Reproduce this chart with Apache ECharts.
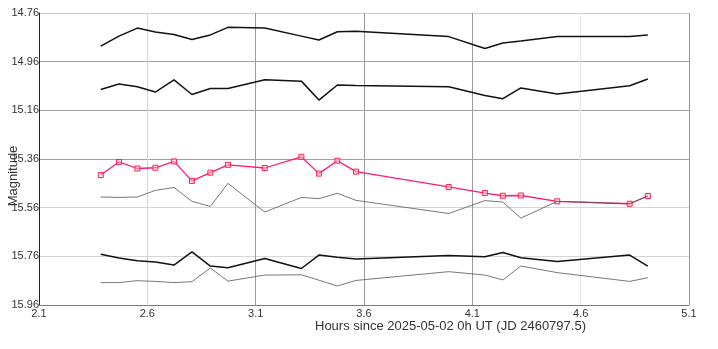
<!DOCTYPE html>
<html>
<head>
<meta charset="utf-8">
<script src="https://cdn.jsdelivr.net/npm/echarts@6/dist/echarts.min.js"></script>
<style>
  html, body { margin: 0; padding: 0; background: #fff; }
  #chart { width: 718px; height: 349px; }
</style>
</head>
<body>
<div id="chart"></div>
<script>
// Observation times (hours since 2025-05-02 0h UT)
const hours = [2.385, 2.469, 2.554, 2.637, 2.723, 2.806, 2.891, 2.972, 3.142, 3.311,
               3.392, 3.477, 3.563, 3.991, 4.158, 4.241, 4.324, 4.492, 4.826, 4.910];

// Target star magnitudes
const targetMag = [15.426, 15.372, 15.399, 15.396, 15.370, 15.450, 15.416, 15.384, 15.397, 15.351,
                   15.420, 15.367, 15.412, 15.475, 15.500, 15.511, 15.510, 15.534, 15.544, 15.512];

// Comparison stars
const compA = [14.896, 14.855, 14.822, 14.838, 14.848, 14.869, 14.850, 14.819, 14.822, 14.855,
               14.871, 14.837, 14.835, 14.857, 14.906, 14.883, 14.875, 14.857, 14.857, 14.850];
const compB = [15.074, 15.052, 15.063, 15.085, 15.035, 15.095, 15.070, 15.070, 15.034, 15.040,
               15.118, 15.056, 15.058, 15.063, 15.099, 15.112, 15.068, 15.093, 15.059, 15.031];
const compC = [15.751, 15.767, 15.778, 15.783, 15.796, 15.742, 15.800, 15.807, 15.769, 15.810,
               15.755, 15.764, 15.771, 15.757, 15.762, 15.744, 15.766, 15.781, 15.755, 15.800];

// Check stars
const check1 = [15.516, 15.518, 15.516, 15.489, 15.477, 15.534, 15.555, 15.460, 15.578, 15.518,
                15.523, 15.501, 15.530, 15.584, 15.531, 15.537, 15.603, 15.534, 15.544, 15.512];
const check2 = [15.868, 15.868, 15.860, 15.863, 15.868, 15.864, 15.808, 15.862, 15.837, 15.836,
                15.858, 15.882, 15.859, 15.823, 15.837, 15.857, 15.800, 15.827, 15.863, 15.848];

const xTitle = 'Hours since 2025-05-02 0h UT (JD 2460797.5)';
const yTitle = 'Magnitude';

const FONT = 'Arial, "Liberation Sans", sans-serif';
const pair = (ys) => hours.map((h, i) => [h, ys[i]]);

function lineSeries(ys, color, width, z) {
  return {
    type: 'line', data: pair(ys), symbol: 'none', z: z,
    lineStyle: { color: color, width: width }, animation: false, silent: true
  };
}

const chart = echarts.init(document.getElementById('chart'), null, { renderer: 'canvas' });
chart.setOption({
  animation: false,
  backgroundColor: '#fff',
  grid: { left: 39, right: 29, top: 13, bottom: 44, containLabel: false },
  xAxis: {
    type: 'value', min: 2.1, max: 5.1, interval: 0.5,
    axisLine: { show: true, onZero: false, lineStyle: { color: '#7a7a7a', width: 1 } },
    axisTick: { show: false },
    axisLabel: { color: '#333', fontFamily: FONT, fontSize: 11, margin: 3,
                 formatter: v => v.toFixed(1) },
    splitLine: { show: true, lineStyle: { width: 1,
      color: ['#222', '#d6d6d6', '#9a9a9a', '#9a9a9a', '#9a9a9a', '#e6e6e6', '#9a9a9a'] } }
  },
  yAxis: {
    type: 'value', inverse: true, min: 14.76, max: 15.96, interval: 0.2,
    axisLine: { show: true, onZero: false, lineStyle: { color: '#222', width: 1 } },
    axisTick: { show: false },
    axisLabel: { color: '#333', fontFamily: FONT, fontSize: 11, margin: 0,
                 formatter: v => v.toFixed(2) },
    splitLine: { show: true, lineStyle: { width: 1,
      color: ['#cfcfcf', '#a0a0a0', '#a0a0a0', '#a0a0a0', '#d6d6d6', '#d6d6d6', '#7a7a7a'] } }
  },
  graphic: [
    { type: 'text', left: 315, top: 320, silent: true,
      style: { text: xTitle, fill: '#333', font: '13px ' + FONT } },
    { type: 'text', x: 13, y: 176, rotation: Math.PI / 2, silent: true,
      style: { text: yTitle, fill: '#333', font: '13px ' + FONT,
               align: 'center', verticalAlign: 'middle' } }
  ],
  series: [
    {
      type: 'line', data: pair(targetMag), z: 3,
      symbol: 'rect', symbolSize: 5, showAllSymbol: true,
      lineStyle: { color: '#ff1a78', width: 1.3 },
      itemStyle: { color: 'rgba(255,200,210,0.5)', borderColor: '#ff2050', borderWidth: 1 },
      animation: false, silent: true
    },
    lineSeries(compA, '#111', 1.5, 2),
    lineSeries(compB, '#111', 1.5, 2),
    lineSeries(compC, '#111', 1.5, 2),
    lineSeries(check1, '#555', 0.8, 4),
    lineSeries(check2, '#555', 0.8, 4)
  ]
});
</script>
</body>
</html>
